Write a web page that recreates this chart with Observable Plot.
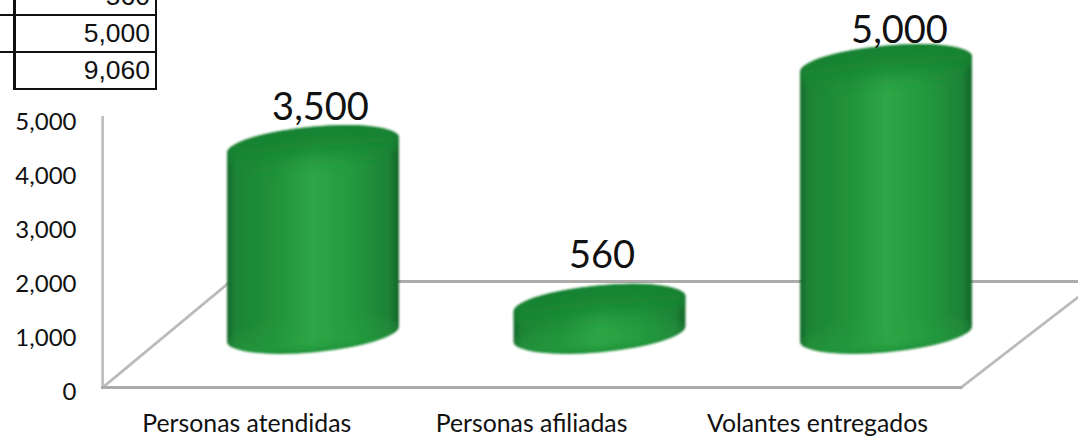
<!DOCTYPE html>
<html>
<head>
<meta charset="utf-8">
<script src="https://cdn.jsdelivr.net/npm/d3@7"></script>
<script src="https://cdn.jsdelivr.net/npm/@observablehq/plot@0.6"></script>
<style>
  html, body { margin: 0; padding: 0; background: #fff; overflow: hidden; }
  #wrap { position: relative; width: 1078px; height: 438px; overflow: hidden; }
  #wrap svg { display: block; max-width: none; position: absolute; left: 0; top: 0; }
  #sheet { position: absolute; left: 0; top: -21px; font: 26.5px "Liberation Sans", Arial, sans-serif; color: #111; }
  .row { display: flex; height: 37px; box-sizing: border-box; }
  .stub { width: 16px; box-sizing: border-box; border-right: 3px solid #111; }
  .cell { width: 141px; box-sizing: border-box; border-right: 2.5px solid #111; border-bottom: 2.5px solid #111;
          text-align: right; padding-right: 5px; line-height: 35px; }
  .row.lined .stub { border-bottom: 2.5px solid #111; }
</style>
</head>
<body>
<div id="wrap"><div id="chart"></div><div id="sheet"></div></div>
<script>
const categories = ["Personas atendidas", "Personas afiliadas", "Volantes entregados"];
const categoryTickPositions = [-0.233, 0.761, 1.759];
const values = [3500, 560, 5000];
const valueLabels = ["3,500", "560", "5,000"];
const yTicks = [0, 1000, 2000, 3000, 4000, 5000];
const sheetValues = ["560", "5,000", "9,060"];

// Walls of the 3-D box, in data units (category index, value)
const wallAxis = [[-0.736, 0], [-0.736, 5000]];
const wallFront = [[-0.736, 0], [2.26, 0]];
const wallLeft = [[-0.736, 0], [-0.29, 1963]];
const wallRight = [[2.26, 0], [2.74, 1963]];
const wallBack = [[-0.29, 1963], [2.74, 1963]];

const halfWidth = 0.3;
const labelDx = [7, 2, 13];
const labelDy = [-91, -101, -87];

const bars = categories.map((c, i) => ({i, category: c, value: values[i]}));

// Draws each rect as a tilted cylinder from its scaled channels
function cylinders(index, scales, v) {
  const depthLift = 53, tilt = 5.3, minor = 18.3;
  const rad = tilt * Math.PI / 180;
  const g = d3.create("svg:g");
  const defs = g.append("defs");
  const side = defs.append("linearGradient").attr("id", "cyl-side");
  [[0, "#15692c"], [0.05, "#1d8436"], [0.28, "#219239"], [0.5, "#2ea647"], [0.72, "#239a3e"], [0.94, "#1e8237"], [1, "#146629"]]
    .forEach(([o, c]) => side.append("stop").attr("offset", o).attr("stop-color", c));
  const cap = defs.append("linearGradient").attr("id", "cyl-cap").attr("x1", 0).attr("x2", 0).attr("y1", 0).attr("y2", 1);
  [[0, "#1a7f33", 1], [0.45, "#158530", 0.85], [1, "#1d8a36", 0]]
    .forEach(([o, c, a]) => cap.append("stop").attr("offset", o).attr("stop-color", c).attr("stop-opacity", a));
  const rim = defs.append("linearGradient").attr("id", "cyl-rim").attr("x1", 0).attr("x2", 0).attr("y1", 0).attr("y2", 1);
  [[0, "#2ea647", 0], [0.7, "#2ba544", 0.3], [1, "#1c8a36", 0.8]]
    .forEach(([o, c, a]) => rim.append("stop").attr("offset", o).attr("stop-color", c).attr("stop-opacity", a));
  const blur = defs.append("filter").attr("id", "cyl-soft").attr("x", "-5%").attr("y", "-5%").attr("width", "110%").attr("height", "110%");
  blur.append("feGaussianBlur").attr("stdDeviation", 0.9);
  const capBlur = defs.append("filter").attr("id", "cyl-capsoft").attr("x", "-10%").attr("y", "-30%").attr("width", "120%").attr("height", "160%");
  capBlur.append("feGaussianBlur").attr("stdDeviation", 3);

  for (const k of index) {
    const xa = Math.min(v.x1[k], v.x2[k]), xb = Math.max(v.x1[k], v.x2[k]);
    const cx = (xa + xb) / 2, a = (xb - xa) / 2;
    const base = v.y1[k] - depthLift, top = v.y2[k] - depthLift;
    const dy = a * Math.tan(rad);
    const arc = `A${a / Math.cos(rad)},${minor} ${-tilt} 0 0`;
    const d = `M${xa},${top + dy}L${xa},${base + dy}${arc} ${xb},${base - dy}L${xb},${top - dy}${arc} ${xa},${top + dy}Z`;
    defs.append("clipPath").attr("id", `cyl-clip-${k}`).append("path").attr("d", d);
    const item = g.append("g").attr("filter", "url(#cyl-soft)");
    item.append("path").attr("d", d).attr("fill", "url(#cyl-side)");
    const inner = item.append("g").attr("clip-path", `url(#cyl-clip-${k})`);
    inner.append("ellipse")
      .attr("cx", cx).attr("cy", base).attr("rx", a / Math.cos(rad) - 1).attr("ry", minor)
      .attr("transform", `rotate(${-tilt} ${cx} ${base})`)
      .attr("fill", "url(#cyl-rim)");
    inner.append("ellipse")
      .attr("cx", cx).attr("cy", top + 2).attr("rx", a / Math.cos(rad) + 4).attr("ry", minor + 6)
      .attr("transform", `rotate(${-tilt} ${cx} ${top})`)
      .attr("fill", "url(#cyl-cap)")
      .attr("filter", "url(#cyl-capsoft)");
  }
  return g.node();
}

const wallLine = (pts, stroke) => Plot.line(pts, {x: d => d[0], y: d => d[1], stroke, strokeWidth: 2.8, strokeLinecap: "square"});

const chart = Plot.plot({
  width: 1078,
  height: 438,
  marginLeft: 76,
  marginRight: 0,
  marginTop: 0,
  marginBottom: 24,
  style: {fontFamily: "Lato, sans-serif", background: "#fff", color: "#111"},
  x: {type: "linear", domain: [-313 / 286.5, 765 / 286.5], range: [0, 1078], label: null},
  y: {type: "linear", domain: [0, 5000], range: [387, 117], label: null},
  marks: [
    wallLine(wallBack, "#aeabab"),
    wallLine(wallLeft, "#bbbbbb"),
    wallLine(wallRight, "#bbbbbb"),
    wallLine(wallAxis, "#bfbfbf"),
    wallLine(wallFront, "#aeabab"),
    Plot.rect(bars, {
      x1: d => d.i - halfWidth,
      x2: d => d.i + halfWidth,
      y1: () => 0,
      y2: d => d.value,
      fill: "#2ea647",
      render: cylinders
    }),
    ...bars.map((d, i) => Plot.text([d], {
      x: e => e.i,
      y: e => e.value,
      text: () => valueLabels[i],
      dx: labelDx[i],
      dy: labelDy[i],
      fontSize: 38,
      fill: "#111"
    })),
    Plot.axisY({
      ticks: yTicks,
      tickSize: 0,
      tickPadding: 0,
      tickFormat: d3.format(","),
      fontSize: 24,
      dy: 4.5,
      fill: "#111",
      label: null
    }),
    Plot.axisX({
      ticks: categoryTickPositions,
      tickSize: 0,
      tickPadding: 0,
      tickFormat: (d, i) => categories[i],
      fontSize: 24.8,
      fill: "#111",
      label: null
    })
  ]
});
document.getElementById("chart").appendChild(chart);

const sheet = d3.select("#sheet");
sheetValues.forEach((t, i) => {
  const row = sheet.append("div").attr("class", "row" + (i < sheetValues.length - 1 ? " lined" : ""));
  row.append("div").attr("class", "stub");
  row.append("div").attr("class", "cell").text(t);
});
</script>
</body>
</html>
